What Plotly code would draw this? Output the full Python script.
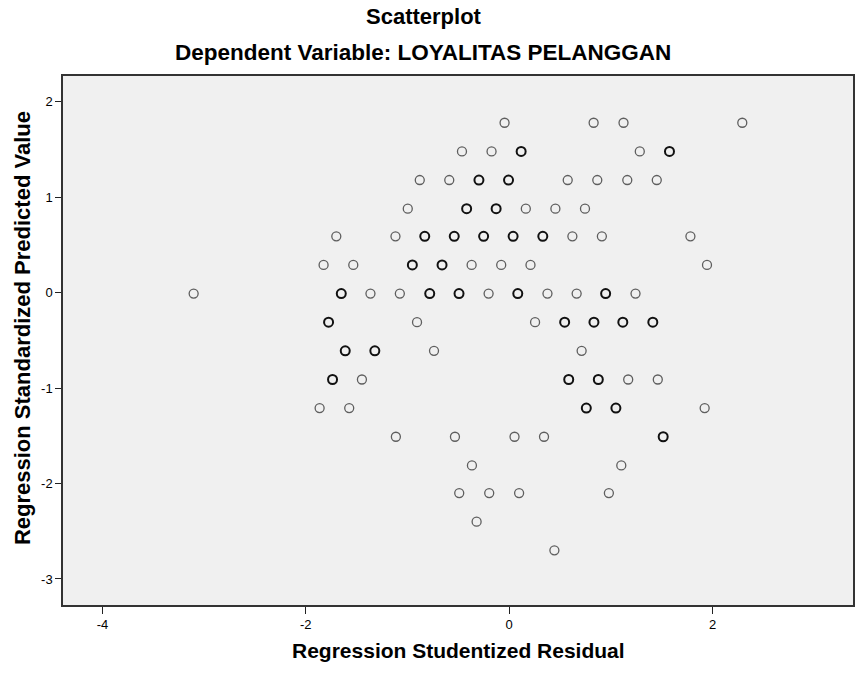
import plotly.graph_objects as go

# Regression Studentized Residual (x), Standardized Predicted Value (y), overlap count
resid = [
    -0.045, 0.831, 1.125, 2.293,
    -0.464, -0.173, 0.118, 1.285, 1.577,
    -0.879, -0.589, -0.297, -0.006, 0.576, 0.867, 1.162, 1.452,
    -0.997, -0.418, -0.128, 0.164, 0.455, 0.746,
    -1.700, -1.118, -0.830, -0.540, -0.251, 0.039, 0.331, 0.622, 0.912, 1.783,
    -1.825, -1.533, -0.952, -0.660, -0.369, -0.078, 0.210, 1.946,
    -3.103, -1.651, -1.364, -1.075, -0.781, -0.493, -0.202, 0.085, 0.377, 0.664, 0.949, 1.243,
    -1.776, -0.906, 0.255, 0.546, 0.834, 1.118, 1.413,
    -1.612, -1.321, -0.739, 0.713,
    -1.737, -1.448, 0.586, 0.877, 1.171, 1.462,
    -1.864, -1.573, 0.759, 1.050, 1.923,
    -1.114, -0.533, 0.053, 0.343, 1.515,
    -0.366, 1.103,
    -0.491, -0.196, 0.098, 0.981,
    -0.320,
    0.445,
]
pred = [
    1.78, 1.78, 1.78, 1.78,
    1.48, 1.48, 1.48, 1.48, 1.48,
    1.18, 1.18, 1.18, 1.18, 1.18, 1.18, 1.18, 1.18,
    0.88, 0.88, 0.88, 0.88, 0.88, 0.88,
    0.59, 0.59, 0.59, 0.59, 0.59, 0.59, 0.59, 0.59, 0.59, 0.59,
    0.29, 0.29, 0.29, 0.29, 0.29, 0.29, 0.29, 0.29,
    -0.01, -0.01, -0.01, -0.01, -0.01, -0.01, -0.01, -0.01, -0.01, -0.01, -0.01, -0.01,
    -0.31, -0.31, -0.31, -0.31, -0.31, -0.31, -0.31,
    -0.61, -0.61, -0.61, -0.61,
    -0.91, -0.91, -0.91, -0.91, -0.91, -0.91,
    -1.21, -1.21, -1.21, -1.21, -1.21,
    -1.51, -1.51, -1.51, -1.51, -1.51,
    -1.81, -1.81,
    -2.10, -2.10, -2.10, -2.10,
    -2.40,
    -2.70,
]
count = [
    1, 1, 1, 1,
    1, 1, 2, 1, 2,
    1, 1, 2, 2, 1, 1, 1, 1,
    1, 2, 2, 1, 1, 1,
    1, 1, 2, 2, 2, 2, 2, 1, 1, 1,
    1, 1, 2, 2, 1, 1, 1, 1,
    1, 2, 1, 1, 2, 2, 1, 2, 1, 1, 2, 1,
    2, 1, 1, 2, 2, 2, 2,
    2, 2, 1, 1,
    2, 1, 2, 2, 1, 1,
    1, 1, 2, 2, 1,
    1, 1, 1, 1, 2,
    1, 1,
    1, 1, 1, 1,
    1,
    1,
]

x_ticks = [-4, -2, 0, 2]
y_ticks = [-3, -2, -1, 0, 1, 2]

W, H = 857, 675
ML, MR, MT, MB = 63, 2, 76, 70
PW, PH = W - ML - MR, H - MT - MB


def px_x(p):
    return (p - ML) / PW


def px_y(p):
    return (H - MB - p) / PH


colors = ["#5e5e5e" if c == 1 else "#111111" for c in count]
widths = [1.3 if c == 1 else 2.0 for c in count]

fig = go.Figure(
    go.Scatter(
        x=resid,
        y=pred,
        mode="markers",
        marker=dict(
            symbol="circle-open",
            size=9,
            color=colors,
            line=dict(width=widths, color=colors),
        ),
        hoverinfo="x+y",
    )
)

font = "Liberation Sans, Arial, sans-serif"
fig.update_layout(
    width=W,
    height=H,
    margin=dict(l=ML, r=MR, t=MT, b=MB, pad=0),
    paper_bgcolor="white",
    plot_bgcolor="#F0F0F0",
    showlegend=False,
    font=dict(family=font, color="black"),
    annotations=[
        dict(text="<b>Scatterplot</b>", x=px_x(425), y=px_y(16), xref="paper", yref="paper",
             showarrow=False, xanchor="center", yanchor="middle", font=dict(size=22, family=font)),
        dict(text="<b>Dependent Variable: LOYALITAS PELANGGAN</b>", x=px_x(424), y=px_y(52),
             xref="paper", yref="paper", showarrow=False, xanchor="center", yanchor="middle",
             font=dict(size=22.5, family=font)),
        dict(text="<b>Regression Studentized Residual</b>", x=px_x(460), y=px_y(650),
             xref="paper", yref="paper", showarrow=False, xanchor="center", yanchor="middle",
             font=dict(size=21, family=font)),
        dict(text="<b>Regression Standardized Predicted Value</b>", x=px_x(22), y=px_y(328),
             xref="paper", yref="paper", showarrow=False, xanchor="center", yanchor="middle",
             textangle=-90, font=dict(size=22, family=font)),
    ],
)

fig.update_xaxes(
    range=[-4.388, 3.382],
    tickvals=x_ticks,
    ticktext=[str(v) for v in x_ticks],
    ticks="outside",
    ticklen=7,
    tickwidth=1.2,
    tickcolor="#222",
    showgrid=False,
    zeroline=False,
    showline=True,
    linecolor="#333",
    linewidth=1.5,
    mirror=True,
    tickfont=dict(size=13, family=font),
)
fig.update_yaxes(
    range=[-3.273, 2.27],
    tickvals=y_ticks,
    ticktext=[str(v) for v in y_ticks],
    ticks="outside",
    ticklen=6,
    tickwidth=1.2,
    tickcolor="#222",
    showgrid=False,
    zeroline=False,
    showline=True,
    linecolor="#333",
    linewidth=1.5,
    mirror=True,
    tickfont=dict(size=13, family=font),
)

fig.write_html(
    "out.html",
    config={"displayModeBar": False},
    post_script="document.body.style.margin='0';",
)
